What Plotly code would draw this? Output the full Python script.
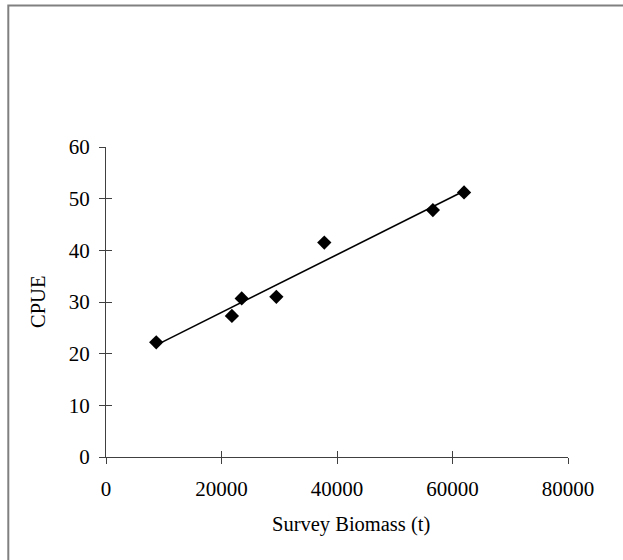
import numpy as np
import plotly.graph_objects as go

# Data
survey_biomass = [8700, 21800, 23500, 29500, 37800, 56600, 62000]
cpue = [22.2, 27.3, 30.7, 31.0, 41.5, 47.8, 51.2]

x_ticks = [0, 20000, 40000, 60000, 80000]
y_ticks = [0, 10, 20, 30, 40, 50, 60]

W, H = 623, 560
L, R, T, B = 106, 55, 147, 103
PW, PH = W - L - R, H - T - B

# least-squares trend line (as the spreadsheet trendline)
slope, intercept = np.polyfit(survey_biomass, cpue, 1)
tx = [min(survey_biomass), max(survey_biomass)]
ty = [slope * v + intercept for v in tx]

FONT = "Liberation Serif, Times New Roman, serif"

fig = go.Figure()
fig.add_trace(go.Scatter(x=tx, y=ty, mode="lines",
                         line=dict(color="black", width=1.6),
                         showlegend=False, hoverinfo="skip"))
fig.add_trace(go.Scatter(x=survey_biomass, y=cpue, mode="markers",
                         marker=dict(symbol="diamond", size=11, color="black"),
                         showlegend=False))

axis_common = dict(showgrid=False, zeroline=False, showline=True,
                   linecolor="#404040", linewidth=1, tickcolor="#404040",
                   tickwidth=1, ticklen=6,
                   tickfont=dict(family=FONT, size=21, color="black"))

fig.update_layout(
    width=W, height=H,
    margin=dict(l=L, r=R, t=T, b=B, pad=0),
    paper_bgcolor="white", plot_bgcolor="white",
    font=dict(family=FONT, size=20, color="black"),
    xaxis=dict(range=[0, 80000], tickvals=x_ticks, ticktext=[str(v) for v in x_ticks],
               ticks="outside", ticklabelstandoff=7, **axis_common),
    yaxis=dict(range=[0, 60], tickvals=y_ticks, ticktext=[str(v) for v in y_ticks],
               ticks="outside", ticklabelstandoff=5, **axis_common),
    xaxis2=dict(range=[0, 80000], tickvals=x_ticks, overlaying="x", ticks="inside",
                showticklabels=False, showgrid=False, zeroline=False, showline=False,
                tickcolor="#404040", ticklen=6, tickwidth=1),
    yaxis2=dict(range=[0, 60], tickvals=y_ticks, overlaying="y", ticks="inside",
                showticklabels=False, showgrid=False, zeroline=False, showline=False,
                tickcolor="#404040", ticklen=6, tickwidth=1),
    showlegend=False,
)
# invisible trace to activate the inside-tick overlay axes
fig.add_trace(go.Scatter(x=[None], y=[None], xaxis="x2", yaxis="y2",
                         showlegend=False, hoverinfo="skip"))

# axis titles as annotations placed in pixel terms
fig.add_annotation(text="Survey Biomass (t)", xref="paper", yref="paper",
                   x=(351 - L) / PW, y=(H - B - 524) / PH,
                   showarrow=False, xanchor="center", yanchor="middle",
                   font=dict(family=FONT, size=20.5, color="black"))
fig.add_annotation(text="CPUE", xref="paper", yref="paper",
                   x=(38 - L) / PW, y=(H - B - 302) / PH, textangle=-90,
                   showarrow=False, xanchor="center", yanchor="middle",
                   font=dict(family=FONT, size=20.5, color="black"))

# outer chart border (extends past the window on the right and bottom)
fig.add_shape(type="rect", xref="paper", yref="paper",
              x0=(8.3 - L) / PW, x1=2.0, y0=-1.0, y1=(H - B - 5.5) / PH,
              line=dict(color="#808080", width=2), layer="below")

fig.write_html("out.html",
               config={"displayModeBar": False},
               post_script="document.body.style.margin='0';"
                           "document.body.style.overflow='hidden';")
